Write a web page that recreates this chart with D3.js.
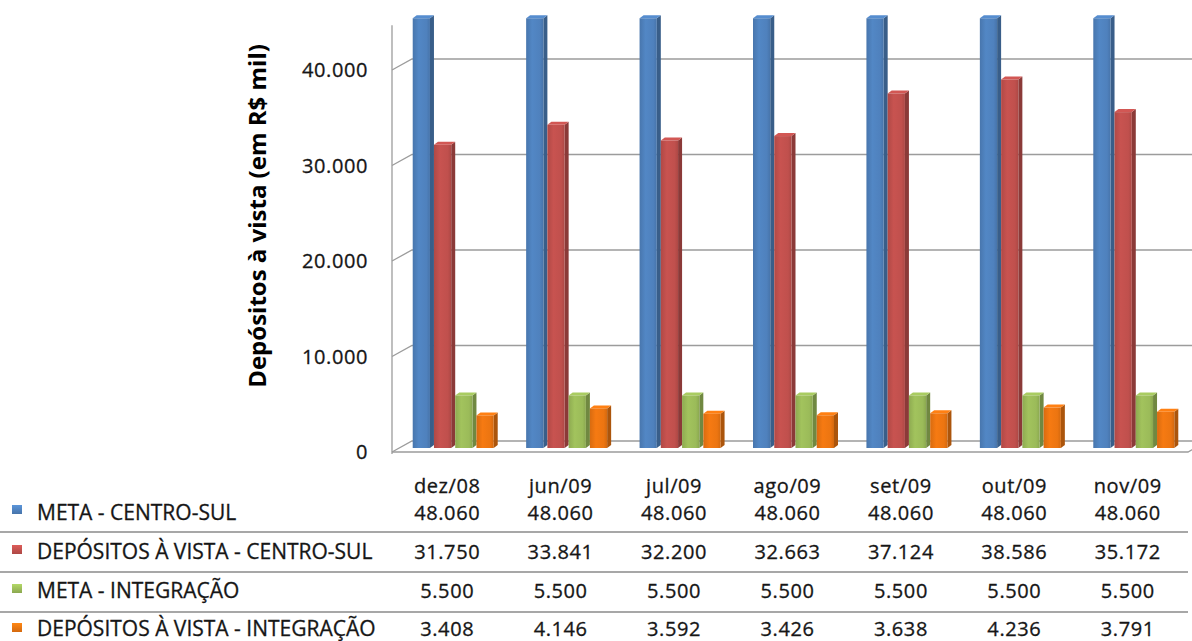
<!DOCTYPE html>
<html>
<head>
<meta charset="utf-8">
<script src="https://cdn.jsdelivr.net/npm/d3@7/dist/d3.min.js"></script>
<style>
  html, body { margin: 0; padding: 0; background: #fff; }
  svg { display: block; }
  text { font-family: "Open Sans", "Liberation Sans", sans-serif; fill: #161616; stroke: #161616; stroke-width: 0.3px; }
</style>
</head>
<body>
<svg id="chart" width="1192" height="641"></svg>
<script>
// Monthly demand deposits vs targets (R$ thousand)
const months = ["dez/08", "jun/09", "jul/09", "ago/09", "set/09", "out/09", "nov/09"];
const seriesNames = [
  "META - CENTRO-SUL",
  "DEPÓSITOS À VISTA - CENTRO-SUL",
  "META - INTEGRAÇÃO",
  "DEPÓSITOS À VISTA - INTEGRAÇÃO"
];
const metaCentroSul = [48060, 48060, 48060, 48060, 48060, 48060, 48060];
const depositosCentroSul = [31750, 33841, 32200, 32663, 37124, 38586, 35172];
const metaIntegracao = [5500, 5500, 5500, 5500, 5500, 5500, 5500];
const depositosIntegracao = [3408, 4146, 3592, 3426, 3638, 4236, 3791];
const yTicks = [0, 10000, 20000, 30000, 40000];
const yMax = 45000;
const yTitle = "Depósitos à vista (em R$ mil)";

const seriesValues = [metaCentroSul, depositosCentroSul, metaIntegracao, depositosIntegracao];
const colors = ["#4f81bd", "#c0504d", "#9bbb59", "#ec7511"];

const ptBR = d3.formatLocale({ decimal: ",", thousands: ".", grouping: [3], currency: ["R$", ""] });
const fmt = ptBR.format(",d");

const svg = d3.select("#chart");
const defs = svg.append("defs");

// 3D frame: front edge of the floor/left wall, and offset to the back wall
const frontLeft = 392, frontRight = 1186;
const depth = { dx: 20, dy: -11 };
const barShift = { dx: 6.5, dy: -4 };
const barDepth = { dx: 4, dy: -3 };

const x = d3.scaleBand().domain(months).range([frontLeft, frontRight]).paddingInner(0).paddingOuter(0);
const y = d3.scaleLinear().domain([0, yMax]).range([452, 22.25]).clamp(true);

const groupWidth = 85;
const xs = d3.scaleBand().domain(seriesNames).range([0, groupWidth]).padding(0);

// gradients for bar faces
colors.forEach((c, i) => {
  const base = d3.color(c);
  const g = defs.append("linearGradient").attr("id", "front" + i)
    .attr("x1", "0").attr("x2", "1").attr("y1", "0").attr("y2", "0");
  g.append("stop").attr("offset", "0").attr("stop-color", base.darker(0.25));
  g.append("stop").attr("offset", "0.35").attr("stop-color", base.brighter(0.12));
  g.append("stop").attr("offset", "0.8").attr("stop-color", base);
  g.append("stop").attr("offset", "1").attr("stop-color", base.darker(0.3));
  const k = defs.append("linearGradient").attr("id", "key" + i)
    .attr("x1", "0").attr("x2", "0").attr("y1", "0").attr("y2", "1");
  k.append("stop").attr("offset", "0").attr("stop-color", base.brighter(0.4));
  k.append("stop").attr("offset", "1").attr("stop-color", base.darker(0.3));
});

const grid = svg.append("g").attr("stroke", "#9c9c9c").attr("stroke-width", 1.3).attr("fill", "none");

// back-wall gridlines with their diagonal on the side wall
yTicks.forEach(v => {
  const fy = y(v);
  grid.append("path")
    .attr("d", `M${frontLeft},${fy}L${frontLeft + depth.dx},${fy + depth.dy}L1192,${fy + depth.dy}`);
});
// floor front edge
grid.append("path").attr("d", `M${frontLeft},${y(0)}L${frontRight + 2},${y(0)}L${frontRight + 2 + depth.dx},${y(0) + depth.dy}`);
// side wall front edge (value axis line)
grid.append("line").attr("x1", frontLeft).attr("x2", frontLeft).attr("y1", y(yMax) + 3).attr("y2", y(0) + 2);

// y tick labels
svg.append("g").selectAll("text").data(yTicks).join("text")
  .attr("x", 368).attr("y", d => y(d) + 7)
  .attr("text-anchor", "end")
  .attr("font-size", 20).attr("letter-spacing", 0.6)
  .text(d => fmt(d));

// y axis title
svg.append("text")
  .attr("transform", "translate(266,216) rotate(-90)")
  .attr("text-anchor", "middle")
  .attr("font-size", 24).attr("font-weight", 700)
  .style("fill", "#000").style("stroke", "none")
  .text(yTitle);

// bars
const bars = svg.append("g");
months.forEach((m, ci) => {
  const gx = x(m) + (x.bandwidth() - groupWidth) / 2 + barShift.dx;
  seriesNames.forEach((s, si) => {
    const v = seriesValues[si][ci];
    const x0 = gx + xs(s);
    const w = xs.bandwidth() - barDepth.dx;
    const yb = y(0) + barShift.dy;
    const yt = y(v) + barShift.dy;
    const base = d3.color(colors[si]);
    const g = bars.append("g");
    // right side face
    g.append("path")
      .attr("d", `M${x0 + w},${yt}L${x0 + w + barDepth.dx},${yt + barDepth.dy}L${x0 + w + barDepth.dx},${yb + barDepth.dy}L${x0 + w},${yb}Z`)
      .attr("fill", base.darker(0.9));
    // top face
    g.append("path")
      .attr("d", `M${x0},${yt}L${x0 + barDepth.dx},${yt + barDepth.dy}L${x0 + w + barDepth.dx},${yt + barDepth.dy}L${x0 + w},${yt}Z`)
      .attr("fill", base.brighter(0.25));
    // front face
    g.append("rect")
      .attr("x", x0).attr("y", yt).attr("width", w).attr("height", yb - yt)
      .attr("fill", `url(#front${si})`);
  });
});

// data table below the plot
const table = svg.append("g");
const rowBaselines = [520, 559, 598, 636];
const rowLines = [532, 572, 612];
const keyTops = [505, 545, 584, 623];

table.selectAll("line.sep").data(rowLines).join("line")
  .attr("x1", 0).attr("x2", 1188).attr("y1", d => d).attr("y2", d => d)
  .attr("stroke", "#8a8a8a").attr("stroke-width", 1.4);

// month headers
table.selectAll("text.month").data(months).join("text")
  .attr("x", d => x(d) + x.bandwidth() / 2 - 1.5).attr("y", 493)
  .attr("text-anchor", "middle").attr("font-size", 20).attr("letter-spacing", 0.6)
  .text(d => d);

seriesNames.forEach((s, si) => {
  table.append("rect")
    .attr("x", 12).attr("y", keyTops[si]).attr("width", 10).attr("height", 9)
    .attr("fill", `url(#key${si})`);
  table.append("text")
    .attr("x", 37).attr("y", rowBaselines[si])
    .attr("font-size", 21)
    .text(s);
  table.append("g").selectAll("text").data(seriesValues[si]).join("text")
    .attr("x", (d, i) => x(months[i]) + x.bandwidth() / 2 - 1.5)
    .attr("y", rowBaselines[si])
    .attr("text-anchor", "middle").attr("font-size", 20).attr("letter-spacing", 0.6)
    .text(d => fmt(d));
});
</script>
</body>
</html>
